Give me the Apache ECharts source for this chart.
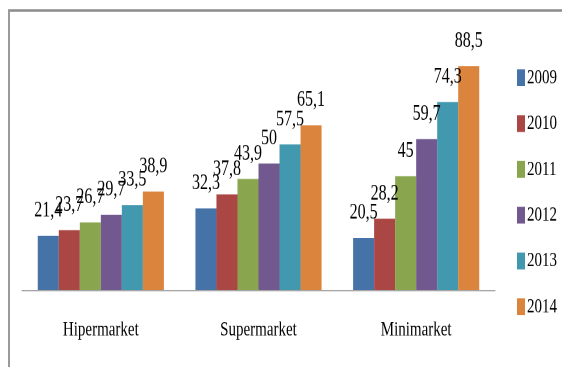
<!DOCTYPE html>
<html>
<head>
<meta charset="utf-8">
<script src="https://cdn.jsdelivr.net/npm/echarts@6/dist/echarts.min.js"></script>
<style>
html,body{margin:0;padding:0;background:#fff;}
body{width:562px;height:367px;position:relative;}
#c{position:absolute;left:0;top:0;width:562px;height:262px;transform-origin:0 0;}
</style>
</head>
<body>
<div id="c"></div>
<script>
const categories = ['Hipermarket', 'Supermarket', 'Minimarket'];
const years = ['2009', '2010', '2011', '2012', '2013', '2014'];
const v2009 = [21.4, 32.3, 20.5];
const v2010 = [23.7, 37.8, 28.2];
const v2011 = [26.7, 43.9, 45];
const v2012 = [29.7, 50, 59.7];
const v2013 = [33.5, 57.5, 74.3];
const v2014 = [38.9, 65.1, 88.5];
const seriesValues = [v2009, v2010, v2011, v2012, v2013, v2014];
const colors = ['#4572A7', '#AA4643', '#89A54E', '#71588F', '#4198AF', '#DB843D'];

// the reference's text is tall and narrow: draw at a shorter height, stretch vertically
const H = 262;
const S = 367 / H;
const el = document.getElementById('c');
el.style.transform = 'scaleY(' + S + ')';

const font = 'Liberation Serif, Times New Roman, serif';
const chart = echarts.init(el, null, {renderer: 'canvas', devicePixelRatio: 2});
chart.setOption({
  animation: false,
  color: colors,
  grid: {left: 22, right: 67, top: 37 / S, bottom: 77 / S},
  legend: {
    orient: 'vertical',
    left: 512,
    top: 43,
    itemWidth: 8,
    itemHeight: 12,
    itemGap: 17.7,
    icon: 'rect',
    textStyle: {fontFamily: font, fontSize: 15, color: '#000', padding: [0, 0, 0, -3]},
    data: years
  },
  xAxis: {
    type: 'category',
    data: categories,
    axisLine: {lineStyle: {color: '#a6a6a6', width: 1}},
    axisTick: {length: 8 / S, lineStyle: {color: '#a6a6a6'}},
    axisLabel: {fontFamily: font, fontSize: 15, color: '#000', margin: 21}
  },
  yAxis: {
    type: 'value', min: 0, max: 100, show: false
  },
  graphic: [
    {type: 'line', shape: {x1: 8, y1: 10.5 / S, x2: 562, y2: 10.5 / S}, style: {stroke: '#8c8c8c', lineWidth: 2.5 / S}},
    {type: 'line', shape: {x1: 9, y1: 10 / S, x2: 9, y2: H}, style: {stroke: '#9a9a9a', lineWidth: 2}}
  ],
  series: years.map((y, i) => ({
    name: y,
    type: 'bar',
    data: seriesValues[i],
    barGap: '0%',
    barCategoryGap: '20%',
    label: {
      show: true,
      position: 'top',
      distance: 10,
      fontFamily: font,
      fontSize: 16,
      color: '#000',
      formatter: p => String(p.value).replace('.', ',')
    }
  }))
});
</script>
</body>
</html>
